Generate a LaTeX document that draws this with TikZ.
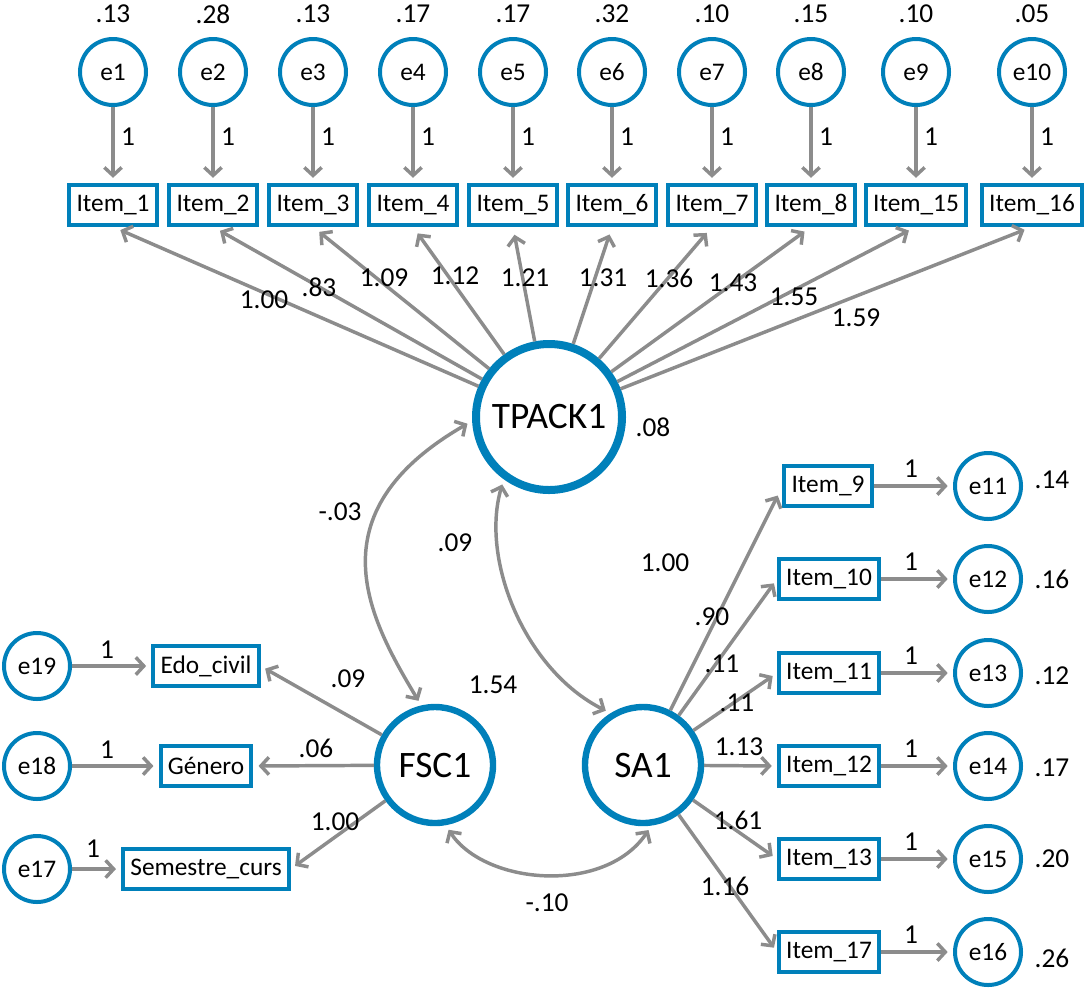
\documentclass[tikz,border=0pt]{standalone}
\usepackage{fontspec}
\setmainfont{Carlito}
\usepackage{tikz}
\usetikzlibrary{arrows.meta}
\definecolor{semblue}{RGB}{0,128,186}
\definecolor{semgray}{RGB}{140,140,140}
\tikzset{every picture/.style={line width=0.75pt}}
\tikzset{
  errnode/.style={circle, draw=semblue, line width=3pt, minimum size=49.5pt, inner sep=0pt, font=\fontsize{19}{22}\selectfont},
  itembox/.style={rectangle, draw=semblue, line width=2.8pt, minimum height=30pt, inner xsep=5.4pt, inner ysep=0pt, font=\fontsize{19}{22}\selectfont},
  latent/.style={circle, draw=semblue, line width=4.8pt, minimum size=87pt, inner sep=0pt, font=\fontsize{28}{31}\selectfont},
  regline/.style={draw=semgray, line width=2.6pt, -{Straight Barb[length=6pt,width=13pt]}, shorten >=4pt},
  covline/.style={draw=semgray, line width=2.6pt, {Straight Barb[length=6pt,width=13pt]}-{Straight Barb[length=6pt,width=13pt]}, shorten >=4pt, shorten <=4pt},
  est/.style={inner sep=0.75pt, font=\fontsize{20.5}{23}\selectfont}
}
\begin{document}
\begin{tikzpicture}[x=0.75pt,y=0.75pt,yscale=-1,xscale=1]
\useasboundingbox (0,0) rectangle (1087,990);

%Shape: Latent variables
\node[latent, line width=6pt, minimum size=109.5pt] (TPACK1) at (549,417) {TPACK1};
\node[latent] (FSC1) at (435,765) {FSC1};
\node[latent] (SA1) at (643,765) {SA1};

%Shape: Error terms, top row
\node[errnode] (e1) at (113,72) {e1};
\node[errnode] (e2) at (213,72) {e2};
\node[errnode] (e3) at (313,72) {e3};
\node[errnode] (e4) at (413,72) {e4};
\node[errnode] (e5) at (513,72) {e5};
\node[errnode] (e6) at (612,72) {e6};
\node[errnode] (e7) at (712,72) {e7};
\node[errnode] (e8) at (811,72) {e8};
\node[errnode] (e9) at (916,72) {e9};
\node[errnode] (e10) at (1032,72) {e10};

%Shape: Items, top row
\node[itembox] (it1) at (113,205) {Item\_1};
\node[itembox] (it2) at (213,205) {Item\_2};
\node[itembox] (it3) at (313,205) {Item\_3};
\node[itembox] (it4) at (413,205) {Item\_4};
\node[itembox] (it5) at (513,205) {Item\_5};
\node[itembox] (it6) at (612,205) {Item\_6};
\node[itembox] (it7) at (712,205) {Item\_7};
\node[itembox] (it8) at (811,205) {Item\_8};
\node[itembox] (it15) at (916,205) {Item\_15};
\node[itembox] (it16) at (1032,205) {Item\_16};

%Shape: Items and error terms, right column
\node[itembox] (it9) at (828,486) {Item\_9};
\node[itembox] (it10) at (829,579) {Item\_10};
\node[itembox] (it11) at (829,673) {Item\_11};
\node[itembox] (it12) at (829,766) {Item\_12};
\node[itembox] (it13) at (829,859) {Item\_13};
\node[itembox] (it17) at (829,952) {Item\_17};
\node[errnode] (e11) at (988,486) {e11};
\node[errnode] (e12) at (988,579) {e12};
\node[errnode] (e13) at (988,673) {e13};
\node[errnode] (e14) at (988,766) {e14};
\node[errnode] (e15) at (988,859) {e15};
\node[errnode] (e16) at (988,952) {e16};

%Shape: Items and error terms, left column
\node[itembox] (edo) at (206,666) {Edo\_civil};
\node[itembox] (gen) at (206,766) {Género};
\node[itembox] (sem) at (206,869) {Semestre\_curs};
\node[errnode] (e19) at (37,666) {e19};
\node[errnode] (e18) at (37,766) {e18};
\node[errnode] (e17) at (37,869) {e17};

%Straight Lines: errors to items
\draw[regline] (e1) -- (it1);
\draw[regline] (e2) -- (it2);
\draw[regline] (e3) -- (it3);
\draw[regline] (e4) -- (it4);
\draw[regline] (e5) -- (it5);
\draw[regline] (e6) -- (it6);
\draw[regline] (e7) -- (it7);
\draw[regline] (e8) -- (it8);
\draw[regline] (e9) -- (it15);
\draw[regline] (e10) -- (it16);
\draw[regline] (it9) -- (e11);
\draw[regline] (it10) -- (e12);
\draw[regline] (it11) -- (e13);
\draw[regline] (it12) -- (e14);
\draw[regline] (it13) -- (e15);
\draw[regline] (it17) -- (e16);
\draw[regline] (e19) -- (edo);
\draw[regline] (e18) -- (gen);
\draw[regline] (e17) -- (sem);

%Straight Lines: loadings
\draw[regline, shorten >=6pt] (TPACK1) -- (it1.south);
\draw[regline, shorten >=6pt] (TPACK1) -- (it2.south);
\draw[regline, shorten >=6pt] (TPACK1) -- (it3.south);
\draw[regline, shorten >=6pt] (TPACK1) -- (it4.south);
\draw[regline, shorten >=6pt] (TPACK1) -- (it5.south);
\draw[regline, shorten >=6pt] (TPACK1) -- (it6.south);
\draw[regline, shorten >=6pt] (TPACK1) -- (it7.south);
\draw[regline, shorten >=6pt] (TPACK1) -- (it8.south);
\draw[regline, shorten >=6pt] (TPACK1) -- (it15.south);
\draw[regline, shorten >=6pt] (TPACK1) -- (it16.south);
\draw[regline, shorten >=8pt] (SA1) -- (it9.west);
\draw[regline] (SA1) -- (it10.west);
\draw[regline] (SA1) -- (it11.west);
\draw[regline] (SA1) -- (it12.west);
\draw[regline] (SA1) -- (it13.west);
\draw[regline] (SA1) -- (it17.west);
\draw[regline] (FSC1) -- (edo.east);
\draw[regline] (FSC1) -- (gen.east);
\draw[regline] (FSC1) -- (sem.east);

%Curve Lines: covariances
\draw[covline] (TPACK1.183) .. controls (311,514) and (370,620) .. (FSC1.103);
\draw[covline] (TPACK1.234) .. controls (480,560) and (525,670) .. (SA1.122);
\draw[covline] (FSC1.280) .. controls (485,885) and (605,895) .. (SA1.278);

% Text Node: variances, top row
\node[est] (v1) at (113,14) {.13};
\node[est] (v2) at (213,14) {.28};
\node[est] (v3) at (313,14) {.13};
\node[est] (v4) at (413,14) {.17};
\node[est] (v5) at (513,14) {.17};
\node[est] (v6) at (612,14) {.32};
\node[est] (v7) at (712,14) {.10};
\node[est] (v8) at (811,14) {.15};
\node[est] (v9) at (916,14) {.10};
\node[est] (v10) at (1032,14) {.05};
% Text Node: fixed paths, top row
\node[est] (f1) at (128,137) {1};
\node[est] (f2) at (228,137) {1};
\node[est] (f3) at (328,137) {1};
\node[est] (f4) at (428,137) {1};
\node[est] (f5) at (528,137) {1};
\node[est] (f6) at (627,137) {1};
\node[est] (f7) at (727,137) {1};
\node[est] (f8) at (826,137) {1};
\node[est] (f9) at (931,137) {1};
\node[est] (f10) at (1047,137) {1};
% Text Node: loadings on TPACK1
\node[est] (l1) at (264,300) {1.00};
\node[est] (l2) at (319,287) {.83};
\node[est] (l3) at (384,278) {1.09};
\node[est] (l4) at (455,276) {1.12};
\node[est] (l5) at (525,278) {1.21};
\node[est] (l6) at (603,278) {1.31};
\node[est] (l7) at (669,278) {1.36};
\node[est] (l8) at (733,283) {1.43};
\node[est] (l9) at (794,297) {1.55};
\node[est] (l10) at (856,318) {1.59};
\node[est] (vT) at (653,427) {.08};
% Text Node: covariances
\node[est] (cTF) at (340,512) {-.03};
\node[est] (cTS) at (455,543) {.09};
\node[est] (cFS) at (547,903) {-.10};
\node[est] (vF) at (493,685) {1.54};
% Text Node: FSC1 side
\node[est] (l19) at (348,679) {.09};
\node[est] (l18) at (316,748) {.06};
\node[est] (l17) at (335,822) {1.00};
\node[est] (f19) at (107,650) {1};
\node[est] (f18) at (107,750) {1};
\node[est] (f17) at (93,849) {1};
% Text Node: SA1 side
\node[est] (s9) at (665,563) {1.00};
\node[est] (s10) at (712,617) {.90};
\node[est] (s11) at (722,664) {.11};
\node[est] (s12) at (737,703) {.11};
\node[est] (s13) at (739,747) {1.13};
\node[est] (s14) at (738,820) {1.61};
\node[est] (s15) at (725,886) {1.16};
\node[est] (g11) at (911,469) {1};
\node[est] (g12) at (911,562) {1};
\node[est] (g13) at (911,656) {1};
\node[est] (g14) at (911,749) {1};
\node[est] (g15) at (911,842) {1};
\node[est] (g16) at (911,935) {1};
\node[est] (v11) at (1052,480) {.14};
\node[est] (v12) at (1052,579) {.16};
\node[est] (v13) at (1052,676) {.12};
\node[est] (v14) at (1052,768) {.17};
\node[est] (v15) at (1052,859) {.20};
\node[est] (v16) at (1052,958) {.26};

\end{tikzpicture}
\end{document}
